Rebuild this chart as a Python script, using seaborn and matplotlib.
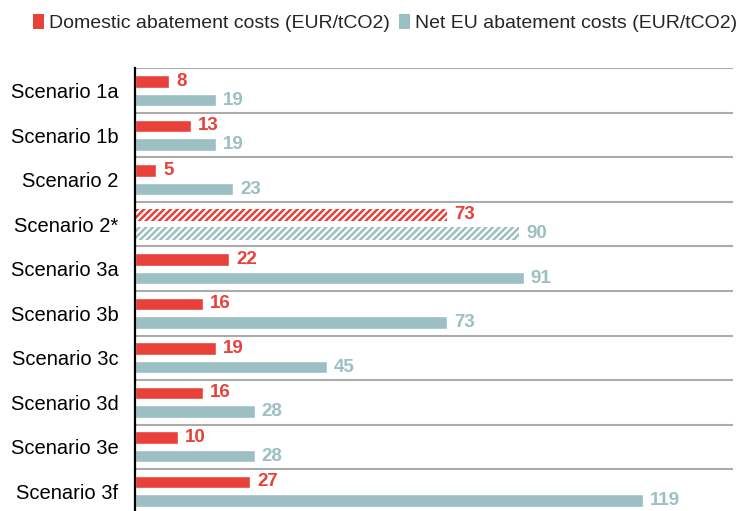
import matplotlib
matplotlib.use("Agg")
import matplotlib.pyplot as plt
from matplotlib.patches import Patch
import seaborn as sns
import pandas as pd
import numpy as np

scenarios = ["Scenario 1a", "Scenario 1b", "Scenario 2", "Scenario 2*", "Scenario 3a",
             "Scenario 3b", "Scenario 3c", "Scenario 3d", "Scenario 3e", "Scenario 3f"]
domestic = [8, 13, 5, 73, 22, 16, 19, 16, 10, 27]
net_eu = [19, 19, 23, 90, 91, 73, 45, 28, 28, 119]
series_names = ["Domestic abatement costs (EUR/tCO2)", "Net EU abatement costs (EUR/tCO2)"]
hatched_scenario = "Scenario 2*"

RED = "#E8413A"
TEAL = "#9BBFC3"

sns.set_style("white")
plt.rcParams["font.family"] = ["Liberation Sans", "DejaVu Sans"]
plt.rcParams["hatch.linewidth"] = 1.8

df = pd.DataFrame({
    "scenario": scenarios * 2,
    "value": domestic + net_eu,
    "series": [series_names[0]] * len(scenarios) + [series_names[1]] * len(scenarios),
})

fig = plt.figure(figsize=(7.51, 5.11), dpi=100)
ax = fig.add_axes([135 / 751, -2.5 / 511, (733 - 135) / 751, (511 - 68.5 + 2.5) / 511])

sns.barplot(data=df, y="scenario", x="value", hue="series", orient="h",
            palette=[RED, TEAL], width=0.84, gap=0.33, legend=False, ax=ax,
            order=scenarios, hue_order=series_names, saturation=1)

hidx = scenarios.index(hatched_scenario)
colors = [RED, TEAL]
for ci, cont in enumerate(ax.containers):
    bar = cont.patches[hidx]
    bar.set_facecolor("white")
    bar.set_edgecolor(colors[ci])
    bar.set_hatch("/////")
    bar.set_linewidth(0)
    vals = domestic if ci == 0 else net_eu
    ax.bar_label(cont, labels=[str(v) for v in vals], padding=5, color=colors[ci],
                 fontweight="bold", fontsize=13.5)

ax.set_xlim(0, 140)
ax.set_ylim(len(scenarios) - 0.5, -0.5)
ax.set_xlabel("")
ax.set_ylabel("")
ax.set_xticks([])

bounds = np.arange(-0.5, len(scenarios), 1.0)
for b in bounds:
    ax.axhline(b, color="#ababab", lw=1.5, zorder=0)

ax.set_yticks(bounds, minor=True)
ax.tick_params(axis="y", which="minor", length=4, width=1.5, direction="out", color="black")
ax.tick_params(axis="y", which="major", length=0, pad=12, labelsize=14.5, labelcolor="black")

for s in ["top", "right", "bottom"]:
    ax.spines[s].set_visible(False)
ax.spines["left"].set_color("black")
ax.spines["left"].set_linewidth(1.6)
ax.spines["left"].set_zorder(5)

handles = [Patch(facecolor=RED, edgecolor="none"), Patch(facecolor=TEAL, edgecolor="none")]
fig.legend(handles, series_names, loc="center left", bbox_to_anchor=(33 / 751, 1 - 23 / 511),
           ncol=2, frameon=False, fontsize=14.0, handlelength=0.55, handleheight=0.8,
           handletextpad=0.25, columnspacing=0.5, borderaxespad=0, borderpad=0)

fig.savefig("out.png", dpi=100)
